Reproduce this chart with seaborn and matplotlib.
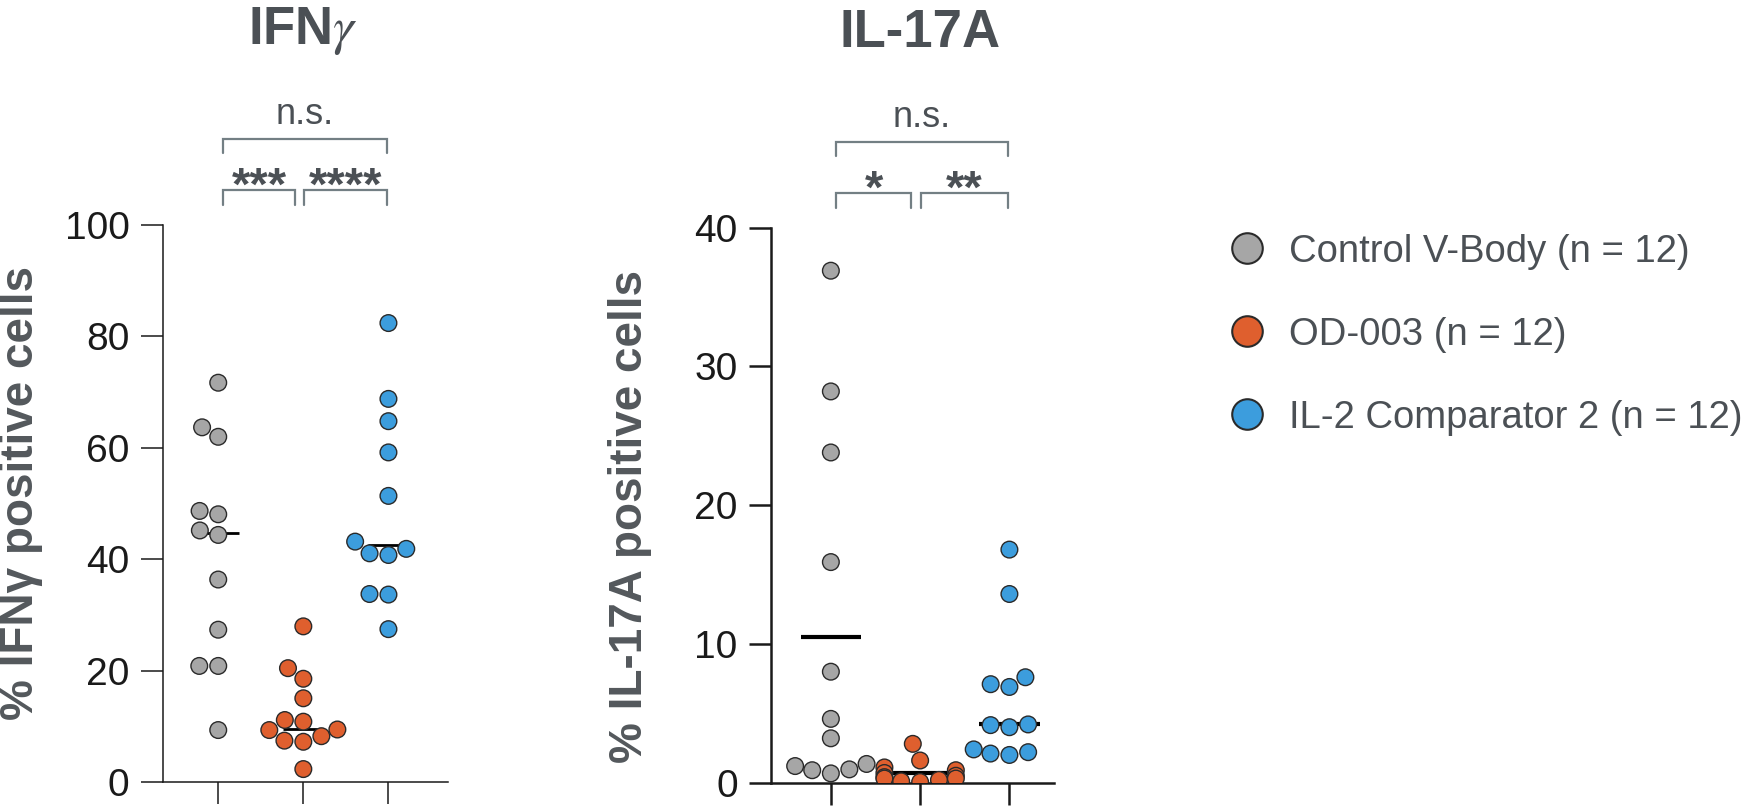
import pandas as pd
import matplotlib
matplotlib.use("Agg")
import matplotlib.pyplot as plt
import matplotlib.transforms as mtransforms
from matplotlib.lines import Line2D
import seaborn as sns

# grupos y colores
groups = ["Control V-Body", "OD-003", "IL-2 Comparator 2"]
legend_labels = ["Control V-Body (n = 12)", "OD-003 (n = 12)", "IL-2 Comparator 2 (n = 12)"]
colors = ["#a6a6a6", "#df5f2e", "#3c9ddd"]

# % IFNγ positive cells
ifng_control = [71.7, 63.7, 62.0, 48.7, 48.1, 45.2, 44.4, 36.4, 27.4, 20.9, 20.9, 9.4]
ifng_od003 = [28.0, 20.5, 18.6, 15.1, 11.2, 10.9, 9.5, 9.4, 8.3, 7.5, 7.3, 2.4]
ifng_il2 = [82.4, 68.8, 64.8, 59.2, 51.4, 43.2, 41.9, 41.1, 40.8, 33.8, 33.7, 27.5]
ifng_center = [44.8, 9.5, 42.6]

# % IL-17A positive cells
il17_control = [36.9, 28.2, 23.8, 15.9, 8.0, 4.6, 3.2, 1.35, 1.2, 0.96, 0.9, 0.67]
il17_od003 = [2.8, 1.6, 1.1, 0.9, 0.7, 0.5, 0.4, 0.3, 0.3, 0.2, 0.1, 0.05]
il17_il2 = [16.8, 13.6, 7.6, 7.1, 6.9, 4.2, 4.15, 4.0, 2.4, 2.2, 2.1, 2.0]
il17_center = [10.5, 0.7, 4.2]

# comparaciones (grupo a, grupo b, texto)
ifng_stats = [(0, 1, "***"), (1, 2, "****"), (0, 2, "n.s.")]
il17_stats = [(0, 1, "*"), (1, 2, "**"), (0, 2, "n.s.")]

sns.set_theme(style="white")
plt.rcParams["font.family"] = ["Liberation Sans", "DejaVu Sans"]
plt.rcParams["mathtext.fontset"] = "stix"

text_gray = "#4b5055"
bracket_gray = "#737f84"


def make_df(a, b, c):
    rows = []
    for g, vals in zip(groups, [a, b, c]):
        for v in vals:
            rows.append({"group": g, "value": v})
    return pd.DataFrame(rows)


def panel(ax, df, center, center_w, center_lw, stats, yticks, ylabel, title, spine_w, xlim, label_y):
    for i, c in enumerate(center):
        ax.hlines(c, i - center_w, i + center_w, color="black", lw=center_lw, zorder=1)
    sns.swarmplot(data=df, x="group", y="value", hue="group", order=groups,
                  palette=dict(zip(groups, colors)), size=12, edgecolor="#2a2a2a",
                  linewidth=1.0, legend=False, ax=ax, zorder=3)
    ax.set_ylim(yticks[0], yticks[-1])
    ax.set_xlim(*xlim)
    ax.set_yticks(yticks)
    ax.set_xticks([0, 1, 2])
    ax.set_xticklabels([])
    ax.set_xlabel("")
    ax.set_ylabel(ylabel, fontsize=33, fontweight="bold", color="#53585c")
    ax.yaxis.set_label_coords(-0.42, label_y)
    ax.tick_params(axis="y", labelsize=28, length=16, width=spine_w, color="#1a1a1a",
                   labelcolor="#1a1a1a", pad=8, left=True)
    ax.tick_params(axis="x", length=16, width=spine_w, color="#1a1a1a", bottom=True)
    sns.despine(ax=ax)
    for s in ["left", "bottom"]:
        ax.spines[s].set_linewidth(spine_w)
        ax.spines[s].set_color("#1a1a1a")

    trans = mtransforms.blended_transform_factory(ax.transData, ax.transAxes)
    for a, b, txt in stats:
        if b - a == 2:
            y, leg = 1.155, 0.026
            x1, x2 = a + 0.06, b - 0.02
            ax.text((x1 + x2) / 2, 1.181, txt, transform=trans, ha="center", va="baseline",
                    fontsize=26, color=text_gray)
        else:
            y, leg = 1.062, 0.026
            x1 = a + 0.06 if a == 0 else a + 0.01
            x2 = b - 0.1 if a == 0 else b - 0.02
            ax.text((x1 + x2) / 2, 1.066, txt, transform=trans, ha="center", va="center",
                    fontsize=34, color=text_gray, fontweight="bold")
        ax.plot([x1, x1, x2, x2], [y - leg, y, y, y - leg], color=bracket_gray, lw=1.6,
                transform=trans, clip_on=False, solid_joinstyle="miter")
    ax.text(1, 1.325, title, transform=trans, ha="center", va="baseline",
            fontsize=38, fontweight="bold", color=text_gray)


fig = plt.figure(figsize=(17.48, 8.1), dpi=100)
ax1 = fig.add_axes([0.0932, 0.034, 0.1631, 0.6883])
ax2 = fig.add_axes([0.4411, 0.0337, 0.1619, 0.6852])

panel(ax1, make_df(ifng_control, ifng_od003, ifng_il2), ifng_center, 0.24, 2.0,
      ifng_stats, [0, 20, 40, 60, 80, 100], "% IFNγ positive cells",
      "IFN$\\gamma$", 1.1, (-0.65, 2.7), 0.52)
panel(ax2, make_df(il17_control, il17_od003, il17_il2), il17_center, 0.34, 3.0,
      il17_stats, [0, 10, 20, 30, 40], "% IL-17A positive cells",
      "IL-17A", 1.8, (-0.67, 2.5), 0.48)

handles = [Line2D([0], [0], marker="o", ls="", markersize=22, markerfacecolor=c,
                  markeredgecolor="#2a2a2a", markeredgewidth=1.5) for c in colors]
fig.legend(handles, legend_labels, loc="upper left", bbox_to_anchor=(0.6806, 0.754),
           frameon=False, fontsize=27.5, labelcolor=text_gray, labelspacing=1.23,
           handletextpad=0.5, handlelength=1.2)

fig.savefig("out.png", dpi=100)
